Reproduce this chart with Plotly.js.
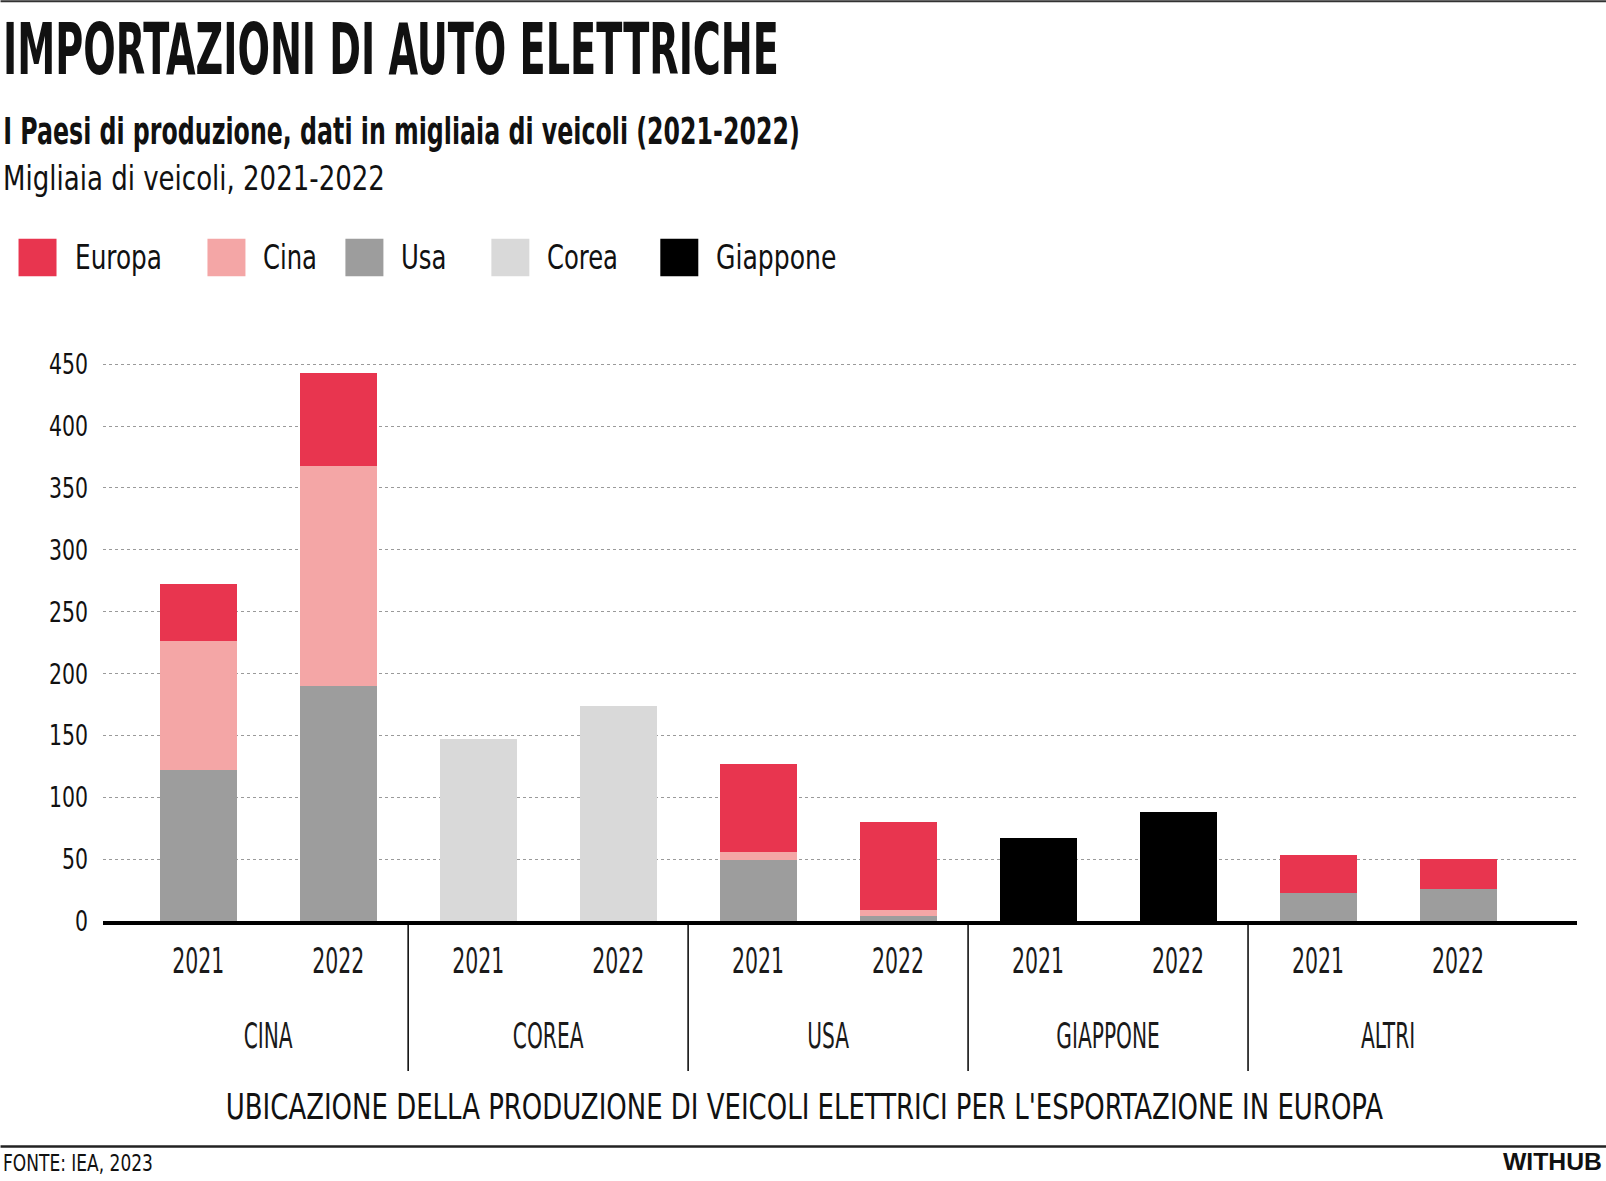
<!DOCTYPE html>
<html>
<head>
<meta charset="utf-8">
<script src="https://cdn.plot.ly/plotly-3.0.1.min.js"></script>
<style>
	body { margin: 0; background: #fff; }
	#chart { width: 1606px; height: 1181px; }
</style>
</head>
<body>
<div id="chart"></div>
<script>
/*	Dati: migliaia di veicoli	*/
var paesi    = ['CINA', 'CINA', 'COREA', 'COREA', 'USA', 'USA', 'GIAPPONE', 'GIAPPONE', 'ALTRI', 'ALTRI'];
var anni     = ['2021', '2022', '2021', '2022', '2021', '2022', '2021', '2022', '2021', '2022'];
var usa      = [122, 190, null, null, 49, 4, null, null, 23, 26];
var cina     = [104, 178, null, null, 7, 5, null, null, null, null];
var europa   = [46, 75, null, null, 71, 71, null, null, 30, 24];
var corea    = [null, null, 147, 174, null, null, null, null, null, null];
var giappone = [null, null, null, null, null, null, 67, 88, null, null];
var yTicks   = [0, 50, 100, 150, 200, 250, 300, 350, 400, 450];

var legendNames = ['Europa', 'Cina', 'Usa', 'Corea', 'Giappone'];

/*	Stili	*/
var colori = {
	Europa: '#e8354f',
	Cina: '#f4a6a6',
	Usa: '#9d9d9d',
	Corea: '#d9d9d9',
	Giappone: '#000000'
};
var FONT = '"Liberation Sans Narrow", "DejaVu Sans Condensed", "Liberation Sans", sans-serif';
var FONT_WIDE = '"Liberation Sans", Arial, sans-serif';

// area del grafico in pixel
var W = 1606, H = 1181;
var L = 102.5, R = 1577, T = 362.8, B = 921;
var XR = [-0.68, 9.85];	//range asse x (indici delle barre)
var YR = [0, 451];

function px2x(px){ return (px - L) / (R - L); }
function px2y(py){ return (B - py) / (B - T); }
function idx2x(i){ return (i - XR[0]) / (XR[1] - XR[0]); }

function serie(name, y){
	return {
		type: 'bar',
		name: name,
		x: [paesi, anni],
		y: y,
		marker: { color: colori[name], line: { width: 0 } },
		hoverinfo: 'y+name'
	};
}

var data = [
	serie('Usa', usa),
	serie('Cina', cina),
	serie('Europa', europa),
	serie('Corea', corea),
	serie('Giappone', giappone)
];

//testi (fit = larghezza voluta in px, per stringere il carattere)
var annotations = [];
var fits = [];

function testo(t, xpx, ypx, anchor, size, weight, family, fit){
	annotations.push({
		text: t,
		xref: 'paper', yref: 'paper',
		x: px2x(xpx), y: px2y(ypx),
		xanchor: anchor, yanchor: 'middle',
		showarrow: false,
		font: { family: family || FONT, size: size, color: '#111', weight: weight || 400 }
	});
	fits.push(fit ? { w: fit, anchor: anchor } : null);
}

testo('IMPORTAZIONI DI AUTO ELETTRICHE', 0, 49, 'left', 72, 700, null, 776);
testo('I Paesi di produzione, dati in migliaia di veicoli (2021-2022)', 0, 131.5, 'left', 37, 700, null, 797);
testo('Migliaia di veicoli, 2021-2022', 0, 178.5, 'left', 33.5, 400, null, 382);
testo("UBICAZIONE DELLA PRODUZIONE DI VEICOLI ELETTRICI PER L'ESPORTAZIONE IN EUROPA", 804, 1107.5, 'center', 35, 400, null, 1158);
testo('FONTE: IEA, 2023', 0, 1163, 'left', 23, 400, null, 150);
testo('WITHUB', 1604, 1161.5, 'right', 24, 700, FONT_WIDE, 99);

//legenda
var legX = [18, 207, 345, 491, 660];
var legW = [87, 54, 45.5, 71, 120.5];
var shapes = [];
for(var i = 0; i < legendNames.length; i++){
	shapes.push({
		type: 'rect', xref: 'paper', yref: 'paper',
		x0: px2x(legX[i]), x1: px2x(legX[i] + 38),
		y0: px2y(276), y1: px2y(238.5),
		fillcolor: colori[legendNames[i]],
		line: { width: 0 }
	});
	testo(legendNames[i], legX[i] + 54, 257, 'left', 34, 400, null, legW[i]);
}

//separatori tra i paesi
for(var k = 1; k < paesi.length; k++){
	if(paesi[k] != paesi[k - 1]){
		shapes.push({
			type: 'line', xref: 'paper', yref: 'paper',
			x0: idx2x(k - 0.5), x1: idx2x(k - 0.5),
			y0: px2y(924), y1: px2y(1071),
			line: { color: '#000', width: 1.5 }
		});
	}
}

//linee sopra e sotto
shapes.push({ type: 'line', xref: 'paper', yref: 'paper', x0: px2x(0), x1: px2x(W), y0: px2y(1), y1: px2y(1), line: { color: '#333', width: 2 } });
shapes.push({ type: 'line', xref: 'paper', yref: 'paper', x0: px2x(0), x1: px2x(W), y0: px2y(1146.5), y1: px2y(1146.5), line: { color: '#222', width: 2.5 } });

var layout = {
	width: W,
	height: H,
	margin: { l: L, r: W - R, t: T, b: H - B, pad: 0 },
	paper_bgcolor: '#fff',
	plot_bgcolor: '#fff',
	barmode: 'stack',
	bargap: 0.45,
	showlegend: false,
	font: { family: FONT, color: '#111' },
	xaxis: {
		type: 'multicategory',
		range: XR,
		showgrid: false,
		zeroline: false,
		showline: true,
		linecolor: '#000',
		linewidth: 4,
		ticks: '',
		ticklabelstandoff: 6,
		tickfont: { family: FONT, size: 36, color: '#1a1a1a' },
		showdividers: false
	},
	yaxis: {
		range: YR,
		tickvals: yTicks,
		ticks: '',
		ticklabelstandoff: 14,
		tickfont: { family: FONT, size: 28.5, color: '#111' },
		showgrid: true,
		gridcolor: '#9a9a9a',
		gridwidth: 1,
		griddash: 'dot',
		zeroline: false,
		showline: false
	},
	annotations: annotations,
	shapes: shapes
};

//stringe un testo svg (scala orizzontale attorno al punto d'ancoraggio)
function squeezeBy(el, s, anchor, dy){
	var b = el.getBBox();
	var x0 = anchor == 'left' ? b.x : (anchor == 'right' ? b.x + b.width : b.x + b.width / 2);
	var old = el.getAttribute('transform') || '';
	el.setAttribute('transform', old + ' translate(0,' + (dy || 0) + ') translate(' + x0 + ',0) scale(' + s + ',1) translate(' + (-x0) + ',0)');
}

function larghezza(el){ return el.getBBox().width || 1; }
function centroY(el){ var r = el.getBoundingClientRect(); return r.top + r.height / 2; }

Plotly.newPlot('chart', data, layout, { displayModeBar: false, responsive: false }).then(function(gd){
	var ann = gd.querySelectorAll('.annotation');
	for(var i = 0; i < ann.length; i++){
		var k = parseInt(ann[i].getAttribute('data-index'));
		if(fits[k]){
			var t = ann[i].querySelector('text');
			if(t) squeezeBy(t, fits[k].w / larghezza(t), fits[k].anchor);
		}
	}

	//etichette asse x: anni (centro a 961px) e paesi (centro a 1036px)
	var labs = gd.querySelectorAll('.xaxislayer-above text');
	var sAnno = null, sPaese = null;
	for(var j = 0; j < labs.length; j++){
		var txt = labs[j].textContent;
		if(sAnno === null && txt == '2021') sAnno = 52 / larghezza(labs[j]);
		if(sPaese === null && txt == 'CINA') sPaese = 49 / larghezza(labs[j]);
	}
	for(var j = 0; j < labs.length; j++){
		var anno = /^\d+$/.test(labs[j].textContent);
		var dy = (anno ? 961 : 1036) - centroY(labs[j]);
		squeezeBy(labs[j], anno ? (sAnno || 0.8) : (sPaese || 0.7), 'center', dy);
	}

	//etichette asse y
	var ylabs = gd.querySelectorAll('.yaxislayer-above text');
	var sY = null;
	for(var j = 0; j < ylabs.length; j++){
		if(ylabs[j].textContent == '450') sY = 39 / larghezza(ylabs[j]);
	}
	for(var j = 0; j < ylabs.length; j++){
		squeezeBy(ylabs[j], sY || 0.85, 'right');
	}
});
</script>
</body>
</html>
